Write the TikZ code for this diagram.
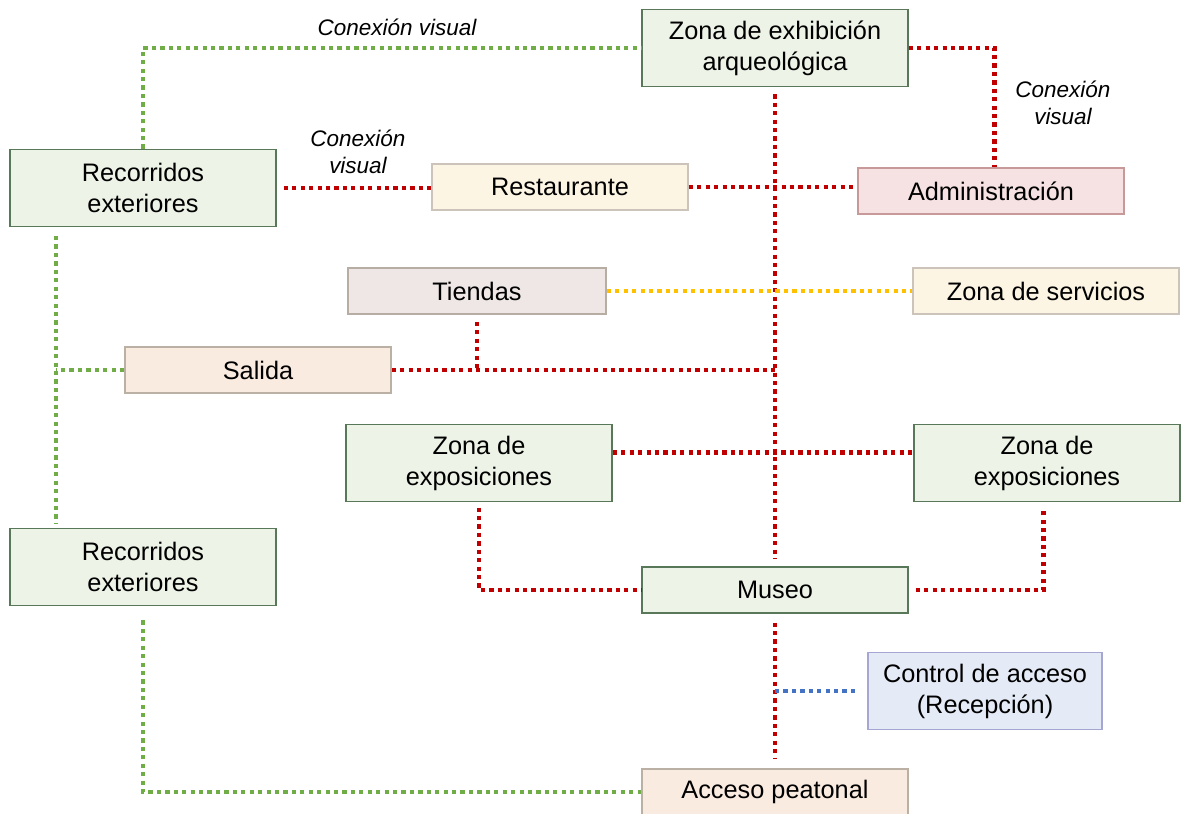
\documentclass[tikz,border=0pt]{standalone}
\usepackage{fontspec}
\setmainfont{Liberation Sans}
\usepackage{xcolor}
\usepackage{tikz}
\usetikzlibrary{positioning,calc}
\definecolor{lred}{HTML}{C00000}
\definecolor{lgreen}{HTML}{70AD47}
\definecolor{lyellow}{HTML}{FFC000}
\definecolor{lblue}{HTML}{4472C4}
\definecolor{fgreen}{HTML}{EDF3E6}
\definecolor{fcream}{HTML}{FDF5E3}
\definecolor{fpink}{HTML}{F6E2E2}
\definecolor{frose}{HTML}{EFE7E5}
\definecolor{fpeach}{HTML}{FAEBE0}
\definecolor{fblue}{HTML}{E4EAF6}

\begin{document}
\begin{tikzpicture}[
    x=0.02cm, y=-0.02cm,
    zone/.style={rectangle, draw=black!60, line width=0.9pt, minimum width=5.32cm, minimum height=1.54cm, font=\fontsize{14.4}{17.6}\selectfont, align=center, inner sep=2pt},
    slim/.style={zone, minimum height=0.92cm},
    greenbox/.style={fill=fgreen, draw=black!60!green!30!gray},
    creambox/.style={fill=fcream, draw=black!55!brown!30},
    pinkbox/.style={fill=fpink, draw=black!55!red!40},
    rosebox/.style={fill=frose, draw=black!60!brown!40},
    peachbox/.style={fill=fpeach, draw=black!55!brown!40},
    bluebox/.style={fill=fblue, draw=black!50!blue!35},
    link/.style={line width=2.5pt, dash pattern=on 2.4pt off 2.4pt},
    visual/.style={font=\fontsize{12.8}{15.5}\selectfont\itshape, align=center},
]
\useasboundingbox (0,0) rectangle (1181,814);

% Zones
\node[zone, greenbox] (zea) at (775,48) {Zona de exhibición\\arqueológica};
\node[zone, greenbox] (rec1) at (143,188) {Recorridos\\exteriores};
\node[slim, creambox, minimum width=5.12cm] (rest) at (560,187) {Restaurante};
\node[slim, pinkbox] (adm) at (991,191) {Administración};
\node[slim, rosebox, minimum width=5.16cm] (tie) at (477,291) {Tiendas};
\node[slim, creambox] (serv) at (1046,291) {Zona de servicios};
\node[slim, peachbox] (sal) at (258,370) {Salida};
\node[zone, greenbox] (exp1) at (479,463) {Zona de\\exposiciones};
\node[zone, greenbox] (exp2) at (1047,463) {Zona de\\exposiciones};
\node[zone, greenbox] (rec2) at (143,567) {Recorridos\\exteriores};
\node[slim, greenbox] (mus) at (775,590) {Museo};
\node[zone, bluebox, minimum width=4.68cm] (ctrl) at (985,691) {Control de acceso\\(Recepción)};
\node[slim, peachbox] (acc) at (775,792) {Acceso peatonal};

% Visual links
\node[visual] (vis1) at (397,27) {Conexión visual};
\node[visual] (vis2) at (358,152) {Conexión\\visual};
\node[visual] (vis3) at (1063,103) {Conexión\\visual};

% Green links
\coordinate (gl) at ([xshift=0.94cm]rec1.south west);
\draw[link, lgreen] (rec1.north) |- (zea.west);
\draw[link, lgreen, shorten <=5pt, shorten >=2pt] (gl) -- (gl |- rec2.north);
\draw[link, lgreen] (sal.west) -- (sal.west -| gl);
\draw[link, lgreen, shorten <=8pt] (rec2.south) |- (acc.west);

% Red links
\draw[link, lred] (zea.east) -| ([xshift=2pt]adm.north);
\draw[link, lred, shorten <=4pt] (rec1.east) -- (rec1.east -| rest.west);
\draw[link, lred] (rest.east) -- (rest.east -| adm.west);
\draw[link, lred, shorten <=4pt, shorten >=4pt] (zea.south) -- (mus.north);
\draw[link, lred] (sal.east) -- (sal.east -| zea.south);
\draw[link, lred, shorten <=4pt] (tie.south) -- (tie.south |- sal.east);
\draw[link, lred] ([yshift=6pt]exp1.east) -- ([yshift=6pt]exp2.west);
\draw[link, lred, shorten <=3pt] (exp1.south) |- (mus.west);
\draw[link, lred, shorten <=4pt, shorten >=3pt] (mus.east) -| ([xshift=-2pt]exp2.south);
\draw[link, lred, shorten <=5pt, shorten >=6pt] (mus.south) -- (acc.north);

% Other links
\draw[link, lyellow] (tie.east) -- (serv.west);
\draw[link, lblue, shorten >=5pt] (ctrl.west -| mus.south) -- (ctrl.west);

\end{tikzpicture}
\end{document}
